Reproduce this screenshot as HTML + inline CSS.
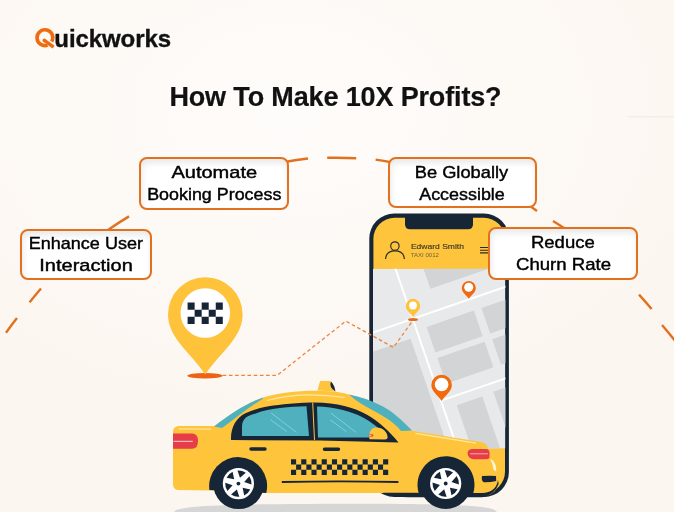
<!DOCTYPE html>
<html><head><meta charset="utf-8">
<style>
html,body{margin:0;padding:0;width:674px;height:512px;overflow:hidden;background:radial-gradient(ellipse 460px 320px at 290px 110px,#FEFCFA 0%,#FDF9F5 50%,#FCF6F0 100%);}
svg{position:absolute;left:0;top:0;will-change:transform;}
.box{position:absolute;box-sizing:border-box;border:2px solid #E2711F;border-radius:8px;background:#fff;box-shadow:inset 1px 4px 6px rgba(0,0,0,0.09);}
</style></head>
<body>
<svg width="674" height="512" viewBox="0 0 674 512">
<defs>
<clipPath id="scr"><rect x="373" y="268.8" width="132.4" height="179.7"/></clipPath>
</defs>
<!-- faint line top right -->
<rect x="628" y="116.3" width="46" height="1" fill="#EDEAE6"/>
<!-- dashed arc -->
<path d="M6.0 332.7A406 406 0 0 1 17.0 318.0M29.6 302.3A406 406 0 0 1 41.0 288.5M108.0 230.0A406 406 0 0 1 129.0 216.4M285.0 162.0A406 406 0 0 1 308.0 158.5M327.2 157.8A406 406 0 0 1 356.2 158.2M375.6 159.6A406 406 0 0 1 392.0 162.5M527.0 204.0A406 406 0 0 1 537.0 211.0M553.0 221.0A406 406 0 0 1 567.0 230.0M639.0 294.6A406 406 0 0 1 651.6 309.0M662.0 325.0A406 406 0 0 1 676.0 342.0" fill="none" stroke="#E2711F" stroke-width="2.4"/>

<!-- logo Q -->
<path d="M47.6 45.1A7.9 7.9 0 1 1 51.74 41.65" fill="none" stroke="#F06B0E" stroke-width="3.6"/>
<path d="M44.3 40.4L53.6 47.1" stroke="#F06B0E" stroke-width="3.6" fill="none"/><circle cx="44.3" cy="40.4" r="1.8" fill="#F06B0E"/>
<text x="54.3" y="47.2" font-family="Liberation Sans" font-weight="bold" font-size="24" fill="#111" stroke="#111" stroke-width="0.35" textLength="116.7" lengthAdjust="spacing">uickworks</text>
<!-- title -->
<text x="169.4" y="105.5" font-family="Liberation Sans" font-weight="bold" font-size="27" fill="#111" stroke="#111" stroke-width="0.2" textLength="332.2" lengthAdjust="spacing">How To Make 10X Profits?</text>

<!-- PHONE -->
<rect x="369.3" y="213.5" width="139.6" height="283.5" rx="25" fill="#172636"/>
<rect x="373.4" y="217.8" width="131.6" height="275" rx="21" fill="#FEC43C"/>
<g clip-path="url(#scr)">
<rect x="373" y="268.8" width="132.4" height="179.7" fill="#E8E9EB"/>
<g transform="translate(426.6 326.9) rotate(-19)" fill="#D3D4D6">
<rect x="16" y="-90" width="66" height="55.2"/>
<rect x="0" y="0" width="50" height="27"/>
<rect x="0" y="33" width="50" height="27"/>
<rect x="58" y="0" width="50" height="27"/>
<rect x="58" y="33" width="50" height="27"/>
<rect x="-200" y="6" width="181" height="200"/>
<rect x="3" y="84" width="27" height="120"/>
<rect x="42" y="83" width="80" height="120"/>
<g fill="#FFFFFF">
<rect x="-11.5" y="-150" width="2" height="320"/>
<rect x="-150" y="-13.2" width="320" height="2"/>
<rect x="-10.5" y="73.4" width="200" height="2"/>
</g>
</g>
</g>
<path d="M405 216L405 224.2Q405 229.2 410 229.2L468 229.2Q473 229.2 473 224.2L473 216Z" fill="#172636"/>
<!-- header content -->
<g fill="none" stroke="#2A2A2A" stroke-width="1.15">
<circle cx="394.9" cy="246" r="4.2"/>
<path d="M385.5 259C386 253 390 250.8 394.9 250.8C400 250.8 404 253 404.4 259"/>
<path d="M480 247.5H490M480 250.2H490M480 252.9H490" stroke-width="1.1"/>
</g>
<text x="410.9" y="249.3" font-family="Liberation Sans" font-size="8" fill="#3B3828" stroke="#3B3828" stroke-width="0.15" textLength="53" lengthAdjust="spacingAndGlyphs">Edward Smith</text>
<text x="410.7" y="257" font-family="Liberation Sans" font-size="6.2" fill="#6E6446" textLength="28.2" lengthAdjust="spacingAndGlyphs">TAXI 0012</text>

<!-- map pins -->
<path d="M413.00 317.00C410.12 312.68 405.80 310.54 405.80 306.00A7.20 7.20 0 0 1 420.20 306.00C420.20 310.54 415.88 312.68 413.00 317.00Z" fill="#FEC33B"/>
<circle cx="413" cy="305.5" r="3.9" fill="#fff"/>
<ellipse cx="413" cy="319.5" rx="5" ry="1.6" fill="#EA6A1A"/>
<path d="M468.80 298.70C466.00 294.50 461.80 292.41 461.80 288.00A7.00 7.00 0 0 1 475.80 288.00C475.80 292.41 471.60 294.50 468.80 298.70Z" fill="#F26A0E"/>
<circle cx="468.7" cy="287.2" r="4.5" fill="#fff"/>
<path d="M441.60 401.00C437.50 394.85 431.35 391.46 431.35 385.00A10.25 10.25 0 0 1 451.85 385.00C451.85 391.46 445.70 394.85 441.60 401.00Z" fill="#F26A0E"/>
<circle cx="441.6" cy="384.5" r="6.8" fill="#fff"/>

<!-- route dotted -->
<polyline points="222.7,375.3 277.2,375.3 345.8,321.1 393.4,347.4 413,320.4" fill="none" stroke="#E8843F" stroke-width="1.25" stroke-dasharray="3.6 2.6"/>

<!-- big taxi pin -->
<ellipse cx="205" cy="375.7" rx="17.7" ry="2.8" fill="#EC6413"/>
<path d="M205.30 374.50C190.38 352.12 168.00 338.00 168.00 314.50A37.30 37.30 0 0 1 242.60 314.50C242.60 338.00 220.22 352.12 205.30 374.50Z" fill="#FEC33B"/>
<circle cx="205.3" cy="313" r="24.8" fill="#fff"/>
<path d="M187.60 302.50h7.04v7.13h-7.04zM201.68 302.50h7.04v7.13h-7.04zM215.76 302.50h7.04v7.13h-7.04zM194.64 309.63h7.04v7.13h-7.04zM208.72 309.63h7.04v7.13h-7.04zM187.60 316.77h7.04v7.13h-7.04zM201.68 316.77h7.04v7.13h-7.04zM215.76 316.77h7.04v7.13h-7.04z" fill="#172636"/>

<!-- CAR -->
<path d="M174 512L176 510C190 505.5 230 504.3 334 503.8C440 503.6 480 505 494 509.5L497 512Z" fill="#D6D6D6"/>
<!-- body -->
<path d="M180 426L215 426C232 413 247 403 263 397.5C285 391 325 388 349 394.5C372 400 395 414 410 430.5L481 442Q486.5 443 487.5 447C490 458 495 470 497.5 482C498 492 490 496 482 496L474 496L417 493L267 493L210 490.5L178 490Q173 489.5 173 484L173 433C173 428 175 426 180 426Z" fill="#FEC43C"/>
<!-- dark skirt front -->
<path d="M383 492.7Q395 497.5 410 497.3L482 497.3Q494 496 498.6 484L498 480Q496 492.5 482 493L400 492.7Z" fill="#172636"/>
<!-- taxi sign -->
<path d="M320 381L330.5 381L335 391.5L317.5 390.5Z" fill="#FEC43C"/>
<path d="M331 381.5Q328.5 387 335.5 391.5Q334.5 385 331 381.5Z" fill="#172636"/>
<!-- teal strips -->
<path d="M214 426.5C231 413 247 403 263 397.5L262.5 399C250 406.5 237 417 222 428Z" fill="#4FB0BE"/>
<path d="M349 394.5C360 396.5 372 400.5 383 406.5C393 412 402 420 412 430.6L401 431C395 423 386 417.5 375 411.5C365 406 356 401 349 394.5Z" fill="#4FB0BE"/>
<!-- window frame -->
<path d="M231 440C230.5 428 236 417.5 246 413C252 410.5 258 408.5 264.6 407C275 405 290 403.3 311 402.5C336 402 353 407 367.5 415C379.5 422 390 432 398.5 442.5L320 440.5Z" fill="#172636"/>
<path d="M242 436L242 426C242.5 419 247 415.5 255 413.8C262 411 270 409 280 408C290 407 298 406.6 306.5 406.3L309 436Z" fill="#4FB0BE"/>
<path d="M317 406.5C335 407 350 411 362 417C372 422 381 430 388 437.5L318 437.5Z" fill="#4FB0BE"/>
<path d="M312.7 402.6L314.5 440" stroke="#FEC43C" stroke-width="1"/>
<g stroke="#8AD8E2" stroke-width="0.8">
<path d="M271.2 413L296.4 432.3M270.4 419.7L286.8 431.5M330.8 413L356 432.3M330 419.7L346.3 431.5"/>
</g>
<!-- mirror -->
<path d="M369.5 439.3C368.5 434 370 427.5 376.5 427.5C383 427.5 387.5 432 387.5 437.5Q387.5 439.5 385 439.5Z" fill="#FEC43C"/>
<ellipse cx="371" cy="435.4" rx="2.6" ry="1.3" fill="#E5502D"/><path d="M369 435.3H371.5" stroke="#fff" stroke-width="0.7"/>
<!-- highlights -->
<path d="M267 400.5Q300 391 345 397.5M178.9 428.8L211.4 429.2M415.5 433.4L476 443.2" fill="none" stroke="#FFE7A0" stroke-width="1.2"/>
<!-- tail light -->
<path d="M173 433.5L192 433.5Q198 433.5 198 441Q198 448.8 192 448.8L173 448.8Z" fill="#E63D49"/>
<path d="M173.5 441.3L192.8 441.3" stroke="#FBE3E5" stroke-width="0.9"/>
<!-- headlight -->
<path d="M467.5 453C468 449 471 448.9 475 448.9L486 448.9Q489 449 489.5 452L489.5 458Q488 459.3 485 459.3L474 459.3Q468 459 467.5 453Z" fill="#E63D49"/>
<path d="M470 453.8L488 453.8" stroke="#F7C9CC" stroke-width="0.8"/>
<path d="M490 458.5Q496.5 462 496.3 471.5L493.6 470Q492.5 463 490 458.5Z" fill="#FFF6DA"/>
<path d="M482 476Q490 475.6 496 476L496.2 481Q490 482.5 484 482.3Q481 481 482 476Z" fill="#172636"/>
<!-- handles -->
<path d="M251 449H265M324.5 449.2H338.5" stroke="#172636" stroke-width="3.4" stroke-linecap="round"/>
<!-- checker -->
<path d="M291.00 459.30h5.12v5.20h-5.12zM301.23 459.30h5.12v5.20h-5.12zM311.46 459.30h5.12v5.20h-5.12zM321.69 459.30h5.12v5.20h-5.12zM331.93 459.30h5.12v5.20h-5.12zM342.16 459.30h5.12v5.20h-5.12zM352.39 459.30h5.12v5.20h-5.12zM362.62 459.30h5.12v5.20h-5.12zM372.85 459.30h5.12v5.20h-5.12zM383.08 459.30h5.12v5.20h-5.12zM296.12 464.50h5.12v5.20h-5.12zM306.35 464.50h5.12v5.20h-5.12zM316.58 464.50h5.12v5.20h-5.12zM326.81 464.50h5.12v5.20h-5.12zM337.04 464.50h5.12v5.20h-5.12zM347.27 464.50h5.12v5.20h-5.12zM357.51 464.50h5.12v5.20h-5.12zM367.74 464.50h5.12v5.20h-5.12zM377.97 464.50h5.12v5.20h-5.12zM291.00 469.70h5.12v5.20h-5.12zM301.23 469.70h5.12v5.20h-5.12zM311.46 469.70h5.12v5.20h-5.12zM321.69 469.70h5.12v5.20h-5.12zM331.93 469.70h5.12v5.20h-5.12zM342.16 469.70h5.12v5.20h-5.12zM352.39 469.70h5.12v5.20h-5.12zM362.62 469.70h5.12v5.20h-5.12zM372.85 469.70h5.12v5.20h-5.12zM383.08 469.70h5.12v5.20h-5.12z" fill="#172636"/>
<path d="M281.8 482Q340 480.8 398.4 482" stroke="#172636" stroke-width="1.8" fill="none"/>
<!-- wheels -->
<path d="M209.4 490A29 29 0 1 1 266.3 493Z" fill="#172636"/>
<path d="M418.7 493A28.5 28.5 0 1 1 472.2 496Z" fill="#172636"/>
<circle cx="238.6" cy="483.6" r="25.5" fill="#172636"/>
<circle cx="445.7" cy="483.5" r="25.5" fill="#172636"/>
<circle cx="238.4" cy="483.6" r="15.6" fill="#fff"/>
<circle cx="445.7" cy="483.5" r="15.6" fill="#fff"/>
<path d="M234.16 479.36L226.54 477.81A13.2 13.2 0 0 1 232.61 471.74ZM239.95 477.80L237.48 470.43A13.2 13.2 0 0 1 245.78 472.66ZM244.20 482.05L249.34 476.22A13.2 13.2 0 0 1 251.57 484.52ZM242.64 487.84L250.26 489.39A13.2 13.2 0 0 1 244.19 495.46ZM236.85 489.40L239.32 496.77A13.2 13.2 0 0 1 231.02 494.54ZM232.60 485.15L227.46 490.98A13.2 13.2 0 0 1 225.23 482.68Z" fill="#172636"/>
<path d="M441.46 479.26L433.84 477.71A13.2 13.2 0 0 1 439.91 471.64ZM447.25 477.70L444.78 470.33A13.2 13.2 0 0 1 453.08 472.56ZM451.50 481.95L456.64 476.12A13.2 13.2 0 0 1 458.87 484.42ZM449.94 487.74L457.56 489.29A13.2 13.2 0 0 1 451.49 495.36ZM444.15 489.30L446.62 496.67A13.2 13.2 0 0 1 438.32 494.44ZM439.90 485.05L434.76 490.88A13.2 13.2 0 0 1 432.53 482.58Z" fill="#172636"/>
<circle cx="238.4" cy="483.6" r="1.9" fill="#172636"/>
<circle cx="445.7" cy="483.5" r="1.9" fill="#172636"/>
</svg>

<div class="box" style="left:139px;top:157px;width:150px;height:53px"></div>
<div class="box" style="left:387.5px;top:156.8px;width:149px;height:51.7px"></div>
<div class="box" style="left:19.7px;top:228.5px;width:132px;height:51.5px"></div>
<div class="box" style="left:488.2px;top:227px;width:149.6px;height:52.7px"></div>

<svg width="674" height="512" viewBox="0 0 674 512">
<g font-family="Liberation Sans" font-size="17" fill="#000" stroke="#000" stroke-width="0.42" lengthAdjust="spacingAndGlyphs">
<text x="171.4" y="177.9" textLength="85.8" lengthAdjust="spacingAndGlyphs">Automate</text>
<text x="147.2" y="200" textLength="134.2" lengthAdjust="spacingAndGlyphs">Booking Process</text>
<text x="414.7" y="177.6" textLength="93.5" lengthAdjust="spacingAndGlyphs">Be Globally</text>
<text x="419.2" y="199.8" textLength="85.6" lengthAdjust="spacingAndGlyphs">Accessible</text>
<text x="28.7" y="249.2" textLength="114.3" lengthAdjust="spacingAndGlyphs">Enhance User</text>
<text x="39.3" y="271.1" textLength="93.5" lengthAdjust="spacingAndGlyphs">Interaction</text>
<text x="531" y="248" textLength="63.7" lengthAdjust="spacingAndGlyphs">Reduce</text>
<text x="516" y="270.3" textLength="95" lengthAdjust="spacingAndGlyphs">Churn Rate</text>
</g>
</svg>
</body></html>
